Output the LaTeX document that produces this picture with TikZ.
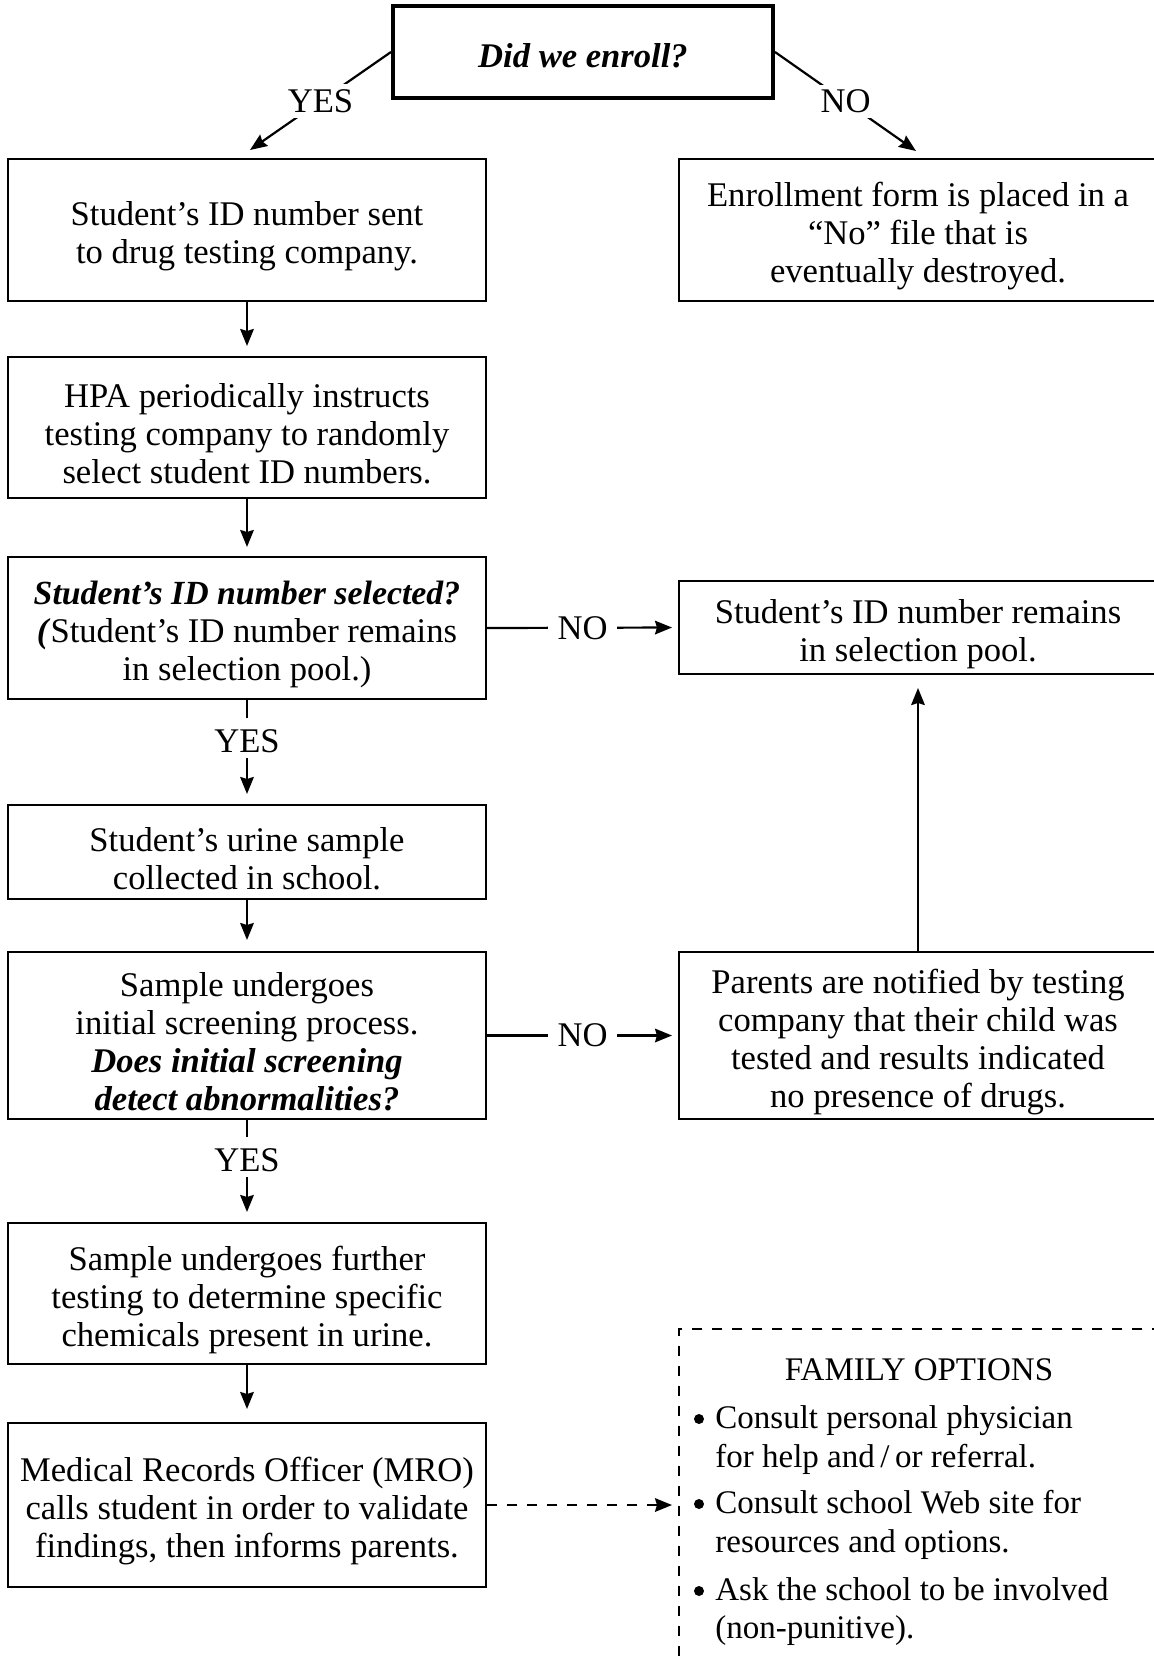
\documentclass[tikz,border=0pt]{standalone}
\usepackage{fontspec}
\setmainfont{Liberation Serif}
\usetikzlibrary{arrows.meta}
\newcommand\boxfont{\fontsize{17.3}{19}\selectfont}
\newcommand\famfont{\fontsize{16.5}{19}\selectfont}
\newcommand\topstrut{\rule{0pt}{18.4pt}}
\begin{document}
\begin{tikzpicture}[x=0.5pt,y=-0.5pt,
  box/.style={draw, line width=1pt, align=center, inner sep=0pt, font=\boxfont, minimum width=239pt},
  conn/.style={line width=1.1pt, -{Stealth[length=8.5pt,width=6.8pt,inset=1pt]}},
  lab/.style={fill=white, inner sep=2.5pt, font=\boxfont},
  vlab/.style={fill=white, inner sep=0pt, text height=17pt, text depth=3pt, font=\boxfont},
  hlab/.style={fill=white, inner sep=0pt, minimum width=34.5pt, font=\boxfont},
  dashbox/.style={draw, line width=1pt, dash pattern=on 5pt off 5pt},
  txt/.style={inner sep=0pt, font=\famfont, anchor=base west},
  dot/.style={circle, fill, inner sep=0pt, minimum size=5pt}
]
\useasboundingbox (0,0) rectangle (1154,1659);

% boxes
\node[box, minimum width=190pt, minimum height=46pt, line width=2pt, font=\boxfont\bfseries\itshape] (q0) at (583,52) {\rule{0pt}{15.5pt}Did we enroll?};
\node[box, minimum height=71pt] (b1) at (247,230) {\topstrut Student’s ID number sent\\to drug testing company.};
\node[box, minimum height=71pt] (n1) at (918,230) {\topstrut Enrollment form is placed in a\\“No” file that is\\eventually destroyed.};
\node[box, minimum height=70.5pt] (b2) at (247,427.5) {\topstrut HPA periodically instructs\\testing company to randomly\\select student ID numbers.};
\node[box, minimum height=71pt] (b3) at (247,628) {\topstrut{\fontsize{16.9}{19}\selectfont\bfseries\itshape Student’s ID number selected?}\\\textbf{\textit{(}}Student’s ID number remains\\in selection pool.)};
\node[box, minimum height=46.5pt] (n3) at (918,627.5) {\topstrut Student’s ID number remains\\in selection pool.};
\node[box, minimum height=47pt] (b4) at (247,852) {\topstrut Student’s urine sample\\collected in school.};
\node[box, minimum height=83.5pt] (b5) at (247,1035.5) {\topstrut Sample undergoes\\initial screening process.\\\textbf{\textit{Does initial screening}}\\\textbf{\textit{detect abnormalities?}}};
\node[box, minimum height=83.5pt] (n5) at (918,1035.5) {\topstrut Parents are notified by testing\\company that their child was\\tested and results indicated\\no presence of drugs.};
\node[box, minimum height=70.5pt] (b6) at (247,1293.5) {\topstrut Sample undergoes further\\testing to determine specific\\chemicals present in urine.};
\node[box, minimum height=82pt] (b7) at (247,1505) {\topstrut Medical Records Officer (MRO)\\calls student in order to validate\\findings, then informs parents.};

% family options
\node[dashbox, minimum width=240.5pt, minimum height=170.5pt, inner sep=0pt] (fam) at (919.5,1499.5) {};
\node[inner sep=0pt, font=\famfont, anchor=base] (famt) at (919,1380) {FAMILY OPTIONS};
\node[dot] (bu1) at (699,1419) {};
\node[txt] (o1a) at (715,1428) {Consult personal physician};
\node[txt] (o1b) at (715,1467) {for help and\,/\,or referral.};
\node[dot] (bu2) at (699,1504) {};
\node[txt] (o2a) at (715,1513) {Consult school Web site for};
\node[txt] (o2b) at (715,1552) {resources and options.};
\node[dot] (bu3) at (699,1591) {};
\node[txt] (o3a) at (715,1600) {Ask the school to be involved};
\node[txt] (o3b) at (715,1638) {(non-punitive).};

% connectors
\coordinate (y0) at (250,150);
\coordinate (n0) at (916,151);
\draw[conn] (q0.west) -- node[lab]{YES} (y0);
\draw[conn] (q0.east) -- node[lab]{NO} (n0);
\draw[conn, shorten >=5pt] (b1.south) -- (b2.north);
\draw[conn, shorten >=4.5pt] (b2.south) -- (b3.north);
\draw[conn, shorten >=3pt] (b3.east) -- node[hlab, pos=0.5]{NO} (n3.west);
\draw[conn, shorten >=5pt] (b3.south) -- node[vlab, pos=0.368]{YES} (b4.north);
\draw[conn, shorten >=5.5pt] (b4.south) -- (b5.north);
\draw[conn, shorten >=3pt] (b5.east) -- node[hlab, pos=0.5]{NO} (n5.west);
\draw[conn, shorten >=6.5pt] (n5.north) -- (n3.south);
\draw[conn, shorten >=5pt] (b5.south) -- node[vlab, pos=0.365]{YES} (b6.north);
\draw[conn, shorten >=6.5pt] (b6.south) -- (b7.north);
\draw[conn, dash pattern=on 5pt off 5pt, shorten >=3pt] (b7.east) -- (b7.east -| fam.west);
\end{tikzpicture}
\end{document}
